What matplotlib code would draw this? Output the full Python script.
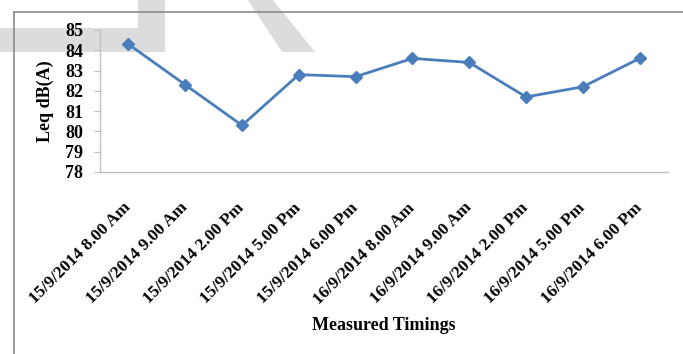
import matplotlib
matplotlib.use("Agg")
import matplotlib.pyplot as plt
from matplotlib.patches import Polygon
from matplotlib.lines import Line2D

# Noise levels at each measurement time
timings = [
    "15/9/2014 8.00 Am", "15/9/2014 9.00 Am", "15/9/2014 2.00 Pm",
    "15/9/2014 5.00 Pm", "15/9/2014 6.00 Pm", "16/9/2014 8.00 Am",
    "16/9/2014 9.00 Am", "16/9/2014 2.00 Pm", "16/9/2014 5.00 Pm",
    "16/9/2014 6.00 Pm",
]
leq = [84.3, 82.3, 80.3, 82.8, 82.7, 83.6, 83.4, 81.7, 82.2, 83.6]
y_ticks = [78, 79, 80, 81, 82, 83, 84, 85]

W, H = 683, 354
fig = plt.figure(figsize=(W / 100, H / 100), dpi=100)
plt.rcParams["font.family"] = ["Liberation Serif", "DejaVu Serif"]

def px(x, y):
    return (x / W, 1 - y / H)

# light grey background lettering
grey = "#dcdcdc"
shapes = [
    [(0, 28), (165, 28), (165, 52), (0, 52)],
    [(138, 0), (165, 0), (165, 52), (138, 52)],
    [(248, 0), (273, 0), (315, 52), (282, 52)],
]
for pts in shapes:
    fig.patches.append(Polygon([px(*p) for p in pts], closed=True,
                               transform=fig.transFigure, facecolor=grey,
                               edgecolor="none", zorder=-2))

# chart frame (top and left edges)
fig.lines.append(Line2D([14 / W, 1], [1 - 12 / H] * 2, transform=fig.transFigure,
                        color="#8a8a8a", lw=1.2, zorder=5))
fig.lines.append(Line2D([14 / W] * 2, [1 - 12 / H, 0], transform=fig.transFigure,
                        color="#8a8a8a", lw=1.2, zorder=5))

left, right = 100 / W, 668 / W
bottom, top = 1 - 172 / H, 1 - 30 / H
ax = fig.add_axes([left, bottom, right - left, top - bottom])
ax.patch.set_visible(False)

x = list(range(len(timings)))
ax.plot(x, leq, color="#4a7ebb", lw=2.0, marker="D", markersize=6,
        markerfacecolor="#4a7ebb", markeredgecolor="#4a7ebb")

ax.set_xlim(-0.5, len(timings) - 0.5)
ax.set_ylim(78, 85)
ax.set_yticks(y_ticks)
ax.set_yticklabels([str(v) for v in y_ticks], fontsize=13, fontweight="bold")
ax.set_xticks(x)
ax.set_xticklabels(timings, rotation=45, ha="right", va="center",
                   rotation_mode="anchor", fontsize=12.5, fontweight="bold")

for s in ("top", "right"):
    ax.spines[s].set_visible(False)
for s in ("left", "bottom"):
    ax.spines[s].set_color("#c0c0c0")
    ax.spines[s].set_linewidth(1.0)
ax.tick_params(axis="y", direction="out", length=4, color="#c0c0c0", pad=8)
ax.tick_params(axis="x", length=0, pad=24)

ax.set_ylabel("Leq dB(A)", fontsize=13, fontweight="bold")
ax.set_xlabel("Measured Timings", fontsize=13, fontweight="bold")
ax.yaxis.set_label_coords((45 - 100) / (668 - 100), 0.5)
ax.yaxis.label.set_va("center")
ax.xaxis.set_label_coords(0.5, (1 - 326 / H - bottom) / (top - bottom))
ax.xaxis.label.set_va("center")

fig.savefig("out.png", dpi=100)
